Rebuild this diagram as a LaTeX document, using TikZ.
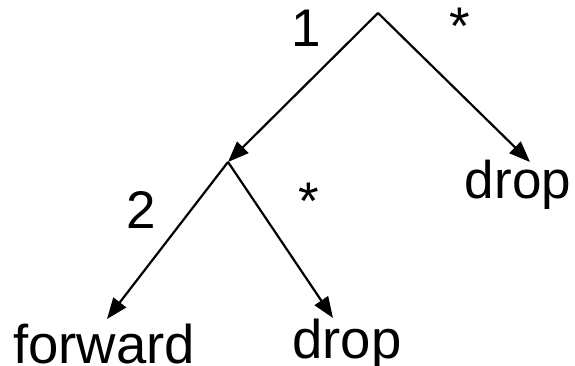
\documentclass[tikz,border=0pt]{standalone}
\usepackage{fontspec}
\setmainfont{Liberation Sans}
\usetikzlibrary{arrows.meta,calc}
\begin{document}
\begin{tikzpicture}[x=1pt,y=-1pt,
  lbl/.style={font=\fontsize{53}{62}\selectfont, inner sep=0pt, anchor=base},
  leaf/.style={font=\fontsize{54.5}{64}\selectfont, inner sep=0pt, anchor=base},
  edge/.style={line width=2.2pt, -{Triangle[length=21pt,width=16pt]}}]
\useasboundingbox (0,0) rectangle (575,366);
\coordinate (root) at (378,13);
\coordinate (mid) at (228,162);
\node[lbl] (drop1) at (518,198) {drop};
\node[leaf] (fwd) at (104,363) {forward};
\node[leaf] (drop2) at (347,358) {drop};
\node[lbl] (l1) at (306,47) {1};
\node[lbl] (s1) at (460,45) {*};
\node[lbl] (l2) at (141,228) {2};
\node[lbl] (s2) at (309,219) {*};
\draw[edge] (root) -- (mid);
\draw[edge] (root) -- ($(drop1.base)+(12,-36)$);
\draw[edge] (mid) -- ($(fwd.base)+(3,-44)$);
\draw[edge] (mid) -- ($(drop2.base)+(-14,-40)$);
\end{tikzpicture}
\end{document}
